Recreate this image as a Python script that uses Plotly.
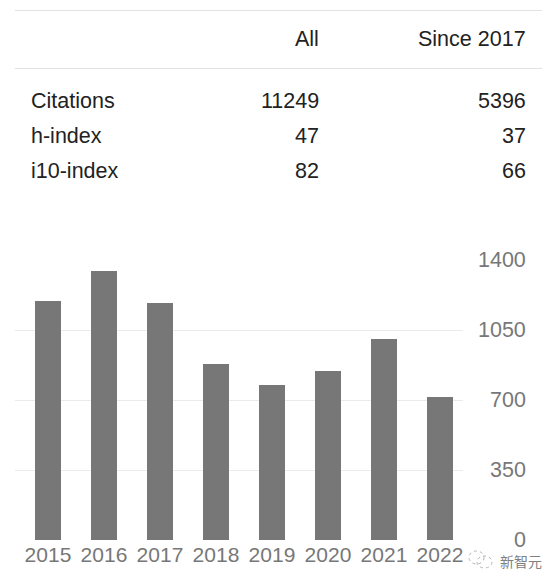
import plotly.graph_objects as go

# ---- data ----
years = ["2015", "2016", "2017", "2018", "2019", "2020", "2021", "2022"]
citations = [1197, 1347, 1185, 880, 775, 845, 1005, 716]
y_ticks = [0, 350, 700, 1050, 1400]

table_cols = ["All", "Since 2017"]
table_rows = ["Citations", "h-index", "i10-index"]
table_all = ["11249", "47", "82"]
table_since = ["5396", "37", "66"]

# ---- layout geometry (window pixels); page body has an 8px margin ----
OFF = 8
W, H = 560 - OFF, 585 - OFF
PL, PR, PT, PB = 15, 463, 260, 540
FONT = "Arial, 'Liberation Sans', sans-serif"
DARK = "#222222"
GRAY = "#777777"


def px(x):
    return (x - PL) / (PR - PL)


def py(y):
    return (PB - y) / (PB - PT)


fig = go.Figure()
fig.add_trace(go.Bar(
    x=list(range(len(years))), y=citations,
    marker=dict(color="#777777", line=dict(width=0)),
    width=0.464, hoverinfo="x+y",
))

ann = []
# y tick labels (right aligned) placed on the y scale
for v in y_ticks:
    ann.append(dict(x=px(528), xref="paper", y=v, yref="y", text=str(v),
                    showarrow=False, xanchor="right", yanchor="middle",
                    font=dict(family=FONT, size=21.5, color=GRAY)))

# table header
col_right = [321, 528]
for c, xr in zip(table_cols, col_right):
    ann.append(dict(x=px(xr), xref="paper", y=py(39.5), yref="paper", text=c,
                    showarrow=False, xanchor="right", yanchor="middle",
                    font=dict(family=FONT, size=21.5, color=DARK)))
row_y = [100.5, 136, 171]
for name, a, s, yy in zip(table_rows, table_all, table_since, row_y):
    ann.append(dict(x=px(29), xref="paper", y=py(yy), yref="paper", text=name,
                    showarrow=False, xanchor="left", yanchor="middle",
                    font=dict(family=FONT, size=21.5, color=DARK)))
    ann.append(dict(x=px(col_right[0]), xref="paper", y=py(yy), yref="paper", text=a,
                    showarrow=False, xanchor="right", yanchor="middle",
                    font=dict(family=FONT, size=21.5, color=DARK)))
    ann.append(dict(x=px(col_right[1]), xref="paper", y=py(yy), yref="paper", text=s,
                    showarrow=False, xanchor="right", yanchor="middle",
                    font=dict(family=FONT, size=21.5, color=DARK)))

# watermark
ann.append(dict(x=px(544), xref="paper", y=py(561), yref="paper", text="新智元",
                showarrow=False, xanchor="right", yanchor="middle",
                font=dict(family="'Noto Sans CJK SC', sans-serif", size=14, color="#808080")))

shapes = []
for yy in [10.5, 68.5]:
    shapes.append(dict(type="line", xref="paper", yref="paper",
                       x0=px(15), x1=px(542), y0=py(yy), y1=py(yy),
                       line=dict(color="#e2e2e2", width=1)))
# watermark icon (two small dotted bubbles)
shapes.append(dict(type="circle", xref="paper", yref="paper",
                   x0=px(469), x1=px(484), y0=py(564), y1=py(551),
                   line=dict(color="#b4b4b4", width=1, dash="dot")))
shapes.append(dict(type="circle", xref="paper", yref="paper",
                   x0=px(477), x1=px(492), y0=py(568), y1=py(556),
                   line=dict(color="#b4b4b4", width=1, dash="dot")))

fig.update_layout(
    width=W, height=H,
    margin=dict(l=PL - OFF, r=W - (PR - OFF), t=PT - OFF, b=H - (PB - OFF), pad=0),
    paper_bgcolor="white", plot_bgcolor="white",
    showlegend=False,
    bargap=0,
    xaxis=dict(
        range=[-0.589, 7.411],
        tickmode="array", tickvals=list(range(len(years))), ticktext=years,
        showgrid=False, zeroline=False, showline=False, ticks="",
        tickfont=dict(family=FONT, size=21, color=GRAY),
        fixedrange=True,
    ),
    yaxis=dict(
        range=[0, 1400], tickvals=y_ticks, showticklabels=False,
        showgrid=True, gridcolor="#ebebeb", gridwidth=1,
        zeroline=False, showline=False, ticks="", fixedrange=True,
    ),
    annotations=ann,
    shapes=shapes,
)

fig.write_html("out.html")
